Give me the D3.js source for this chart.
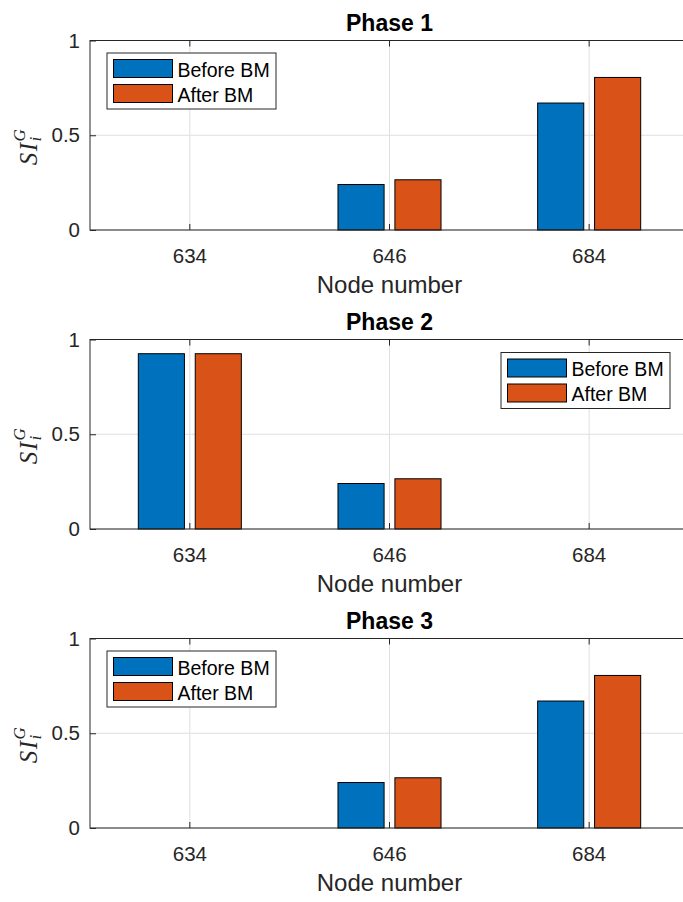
<!DOCTYPE html>
<html>
<head>
<meta charset="utf-8">
<script src="https://cdn.jsdelivr.net/npm/d3@7"></script>
<style>
body { margin: 0; background: #fff; }
svg { display: block; font-family: "Liberation Sans", Arial, sans-serif; }
</style>
</head>
<body>
<svg id="figura"></svg>
<script>
let nos = ["634", "646", "684"];
let series = ["Before BM", "After BM"];
let titulos = ["Phase 1", "Phase 2", "Phase 3"];
let ticksY = [0, 0.5, 1];

let fase1Antes = [0, 0.24, 0.67];
let fase1Depois = [0, 0.265, 0.805];
let fase2Antes = [0.925, 0.24, 0];
let fase2Depois = [0.925, 0.265, 0];
let fase3Antes = [0, 0.24, 0.67];
let fase3Depois = [0, 0.265, 0.805];

let cores = ["#0072BD", "#D95319"];
let corEixo = "#262626";
let corGrade = "#dfdfdf";

let svg = d3.select("#figura")
    .attr("width", 683)
    .attr("height", 902);

function grafico(parametros) {
    let esquerda = 90, direita = 689, altura = 189.5;

    let plotagem = svg.append("g")
        .attr("transform", "translate(0," + parametros.topo + ")");

    let fnX = d3.scaleBand()
        .domain(nos)
        .range([esquerda, direita]);
    let passo = fnX.step();

    let fnSerie = d3.scaleBand()
        .domain(series)
        .range([-0.258 * passo, 0.258 * passo])
        .paddingInner(0.19);

    let fnY = d3.scaleLinear()
        .domain([0, 1])
        .range([altura, 0]);

    let fnCores = d3.scaleOrdinal()
        .domain(series)
        .range(cores);

    // grade
    plotagem.selectAll(".gradeX")
        .data(nos)
        .enter()
        .append("line")
        .attr("x1", d => fnX(d) + passo / 2)
        .attr("x2", d => fnX(d) + passo / 2)
        .attr("y1", 0)
        .attr("y2", altura)
        .attr("stroke", corGrade);

    plotagem.selectAll(".gradeY")
        .data(ticksY)
        .enter()
        .append("line")
        .attr("x1", esquerda)
        .attr("x2", direita)
        .attr("y1", d => fnY(d))
        .attr("y2", d => fnY(d))
        .attr("stroke", corGrade);

    // barras
    let dados = [];
    nos.forEach((no, i) => {
        dados.push({ no: no, serie: series[0], valor: parametros.antes[i] });
        dados.push({ no: no, serie: series[1], valor: parametros.depois[i] });
    });

    plotagem.selectAll(".barras")
        .data(dados)
        .enter()
        .append("rect")
        .classed("barras", true)
        .attr("x", d => fnX(d.no) + passo / 2 + fnSerie(d.serie))
        .attr("y", d => fnY(d.valor))
        .attr("width", fnSerie.bandwidth())
        .attr("height", d => altura - fnY(d.valor))
        .attr("fill", d => fnCores(d.serie))
        .attr("stroke", "#000")
        .attr("stroke-width", 1);

    // eixos
    let eixoX = plotagem.append("g")
        .attr("transform", "translate(0," + altura + ")")
        .call(d3.axisBottom(fnX).tickSize(-6).tickPadding(18));

    let eixoTopo = plotagem.append("g")
        .call(d3.axisTop(fnX).tickSize(-6).tickFormat(""));

    let eixoY = plotagem.append("g")
        .attr("transform", "translate(" + esquerda + ",0)")
        .call(d3.axisLeft(fnY).tickValues(ticksY).tickSize(-6).tickPadding(10).tickFormat(d => d));

    let eixoDireita = plotagem.append("g")
        .attr("transform", "translate(" + direita + ",0)")
        .call(d3.axisRight(fnY).tickValues(ticksY).tickSize(-6).tickFormat(""));

    [eixoX, eixoTopo, eixoY, eixoDireita].forEach(eixo => {
        eixo.select(".domain").remove();
        eixo.selectAll("line").attr("stroke", corEixo);
        eixo.selectAll("text")
            .attr("fill", corEixo)
            .style("font-size", "20.5px")
            .style("font-family", "'Liberation Sans', Arial, sans-serif");
    });

    plotagem.append("rect")
        .attr("x", esquerda)
        .attr("y", 0)
        .attr("width", direita - esquerda)
        .attr("height", altura)
        .attr("fill", "none")
        .attr("stroke", corEixo)
        .attr("stroke-width", 1);

    // titulo e rotulos
    plotagem.append("text")
        .text(parametros.titulo)
        .attr("x", (esquerda + direita) / 2)
        .attr("y", -9.5)
        .attr("text-anchor", "middle")
        .style("font-size", "23px")
        .style("font-weight", "bold")
        .attr("fill", "#000");

    plotagem.append("text")
        .text("Node number")
        .attr("x", (esquerda + direita) / 2)
        .attr("y", altura + 63)
        .attr("text-anchor", "middle")
        .style("font-size", "24px")
        .attr("fill", corEixo);

    let rotuloY = plotagem.append("text")
        .attr("transform", "translate(37," + (altura / 2 + 30) + ") rotate(-90)")
        .attr("fill", corEixo)
        .style("font-family", "'Liberation Serif', 'Times New Roman', serif")
        .style("font-style", "italic");
    rotuloY.append("tspan").text("SI").style("font-size", "25px").attr("letter-spacing", "1.5");
    rotuloY.append("tspan").text("i").style("font-size", "17px").attr("dy", 4);
    rotuloY.append("tspan").text("G").style("font-size", "17px").attr("dx", -4.7).attr("dy", -16);

    // legenda
    let legenda = plotagem.append("g")
        .attr("transform", "translate(" + parametros.legendaX + "," + parametros.legendaY + ")");

    legenda.append("rect")
        .attr("x", 0.5)
        .attr("y", 0.5)
        .attr("width", 169)
        .attr("height", 56)
        .attr("fill", "#fff")
        .attr("stroke", corEixo);

    let itens = legenda.selectAll(".item")
        .data(series)
        .enter()
        .append("g")
        .attr("transform", (d, i) => "translate(0," + (i * 25) + ")");

    itens.append("rect")
        .attr("x", 7)
        .attr("y", 7)
        .attr("width", 59)
        .attr("height", 18)
        .attr("fill", d => fnCores(d))
        .attr("stroke", "#000");

    itens.append("text")
        .text(d => d)
        .attr("x", 71)
        .attr("y", 24)
        .style("font-size", "19.5px")
        .attr("fill", "#000");
}

grafico({ topo: 40.5, titulo: titulos[0], antes: fase1Antes, depois: fase1Depois, legendaX: 106.5, legendaY: 12 });
grafico({ topo: 339.5, titulo: titulos[1], antes: fase2Antes, depois: fase2Depois, legendaX: 500.5, legendaY: 12.5 });
grafico({ topo: 638.5, titulo: titulos[2], antes: fase3Antes, depois: fase3Depois, legendaX: 106.5, legendaY: 12 });
</script>
</body>
</html>
